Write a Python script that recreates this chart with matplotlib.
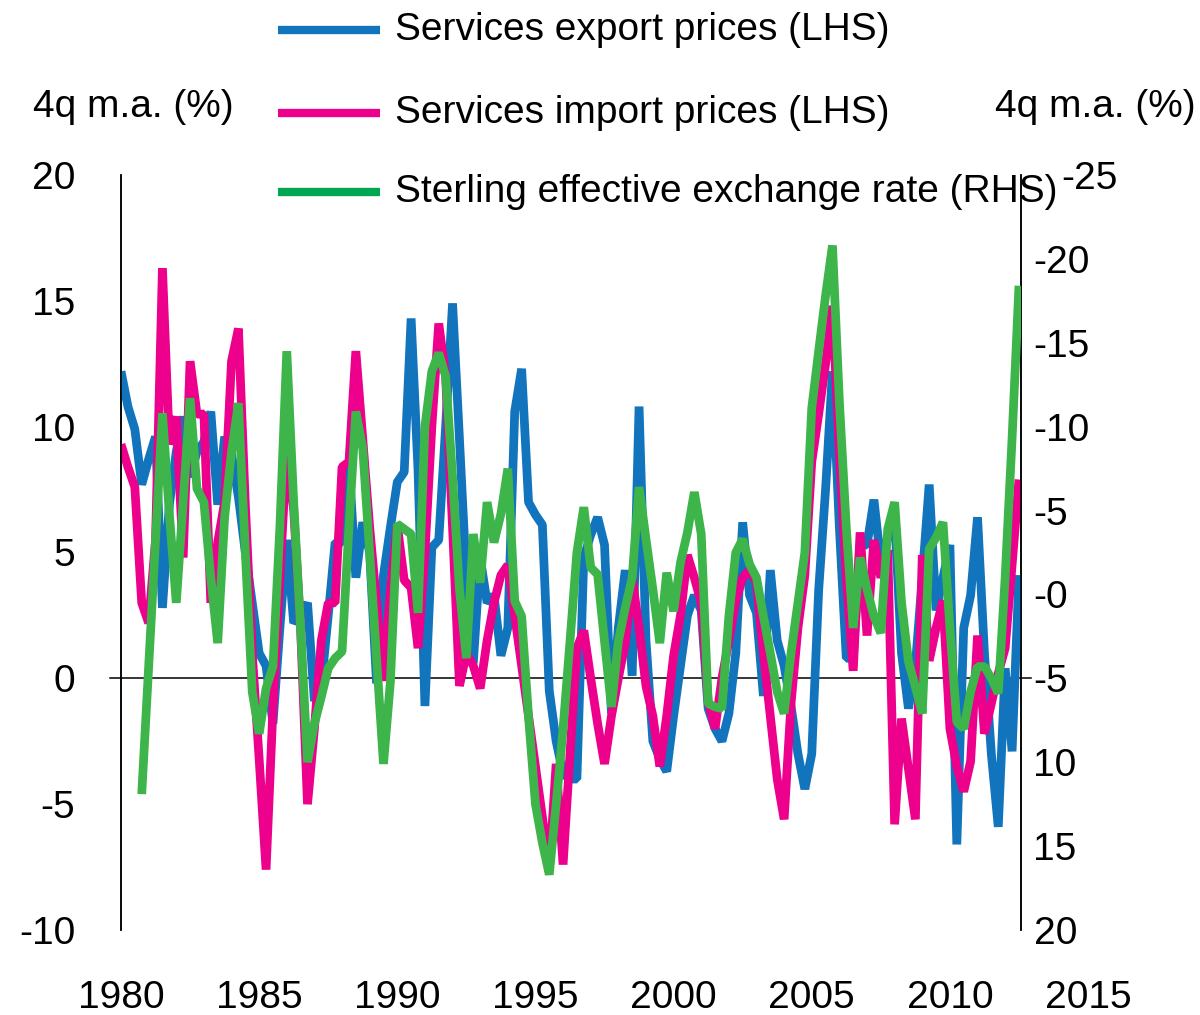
import numpy as np
import matplotlib
matplotlib.use("Agg")
import matplotlib.pyplot as plt
from matplotlib.lines import Line2D
from matplotlib.transforms import ScaledTranslation, blended_transform_factory

plt.rcParams['font.family'] = ['Liberation Sans', 'DejaVu Sans']

# ---------------- data (quarterly, 1980Q1 - 2012Q3) ----------------
start_year = 1980.0
export_prices = [
    12.2, 10.8, 9.9, 7.7, 8.7, 9.6, 2.8, 6.9, 9.0, 10.4,
    8.0, 9.0, 9.4, 10.6, 6.9, 9.6, 8.9, 7.2, 5.0, 3.0,
    1.0, 0.5, -1.8, 2.0, 5.5, 2.2, 2.5, 3.0, -0.9, -0.3,
    2.5, 5.4, 5.4, 8.6, 4.0, 6.2, 5.0, -0.2, 4.1, 6.0,
    7.8, 8.2, 14.3, 8.3, -1.1, 5.2, 5.5, 10.0, 14.9, 9.5,
    4.0, 0.6, 4.8, 3.0, 3.3, 0.9, 2.0, 10.6, 12.3, 7.0,
    6.5, 6.1, -0.5, -2.5, -3.8, -4.0, -4.0, 4.8, 5.7, 6.4,
    5.3, -1.4, 2.0, 4.3, 0.1, 10.8, 1.5, -2.5, -3.2, -3.7,
    -1.5, 0.5, 2.5, 3.3, 2.7, -1.2, -2.0, -2.5, -1.4, 1.0,
    6.2, 3.3, 2.6, -0.7, 4.3, 1.5, 0.5, -1.1, -3.0, -4.4,
    -3.0, 3.5, 7.5, 12.2, 6.0, 0.8, 0.8, 5.3, 5.3, 7.1,
    4.6, 5.6, 6.4, 1.0, -1.2, 0.5, 4.0, 7.7, 2.7, 4.0,
    5.3, -6.6, 2.0, 3.3, 6.4, 1.0, -3.0, -5.9, 0.4, -2.9,
    4.1,
]
import_prices = [
    9.3, 8.4, 7.6, 3.0, 2.2, 5.5, 16.3, 9.3, 10.4, 4.8,
    12.6, 10.5, 10.5, 3.0, 5.4, 7.0, 12.6, 13.9, 6.9, 1.0,
    -3.2, -7.6, -1.2, 4.0, 9.1, 6.7, 2.0, -5.0, -2.0, 1.5,
    3.0, 3.0, 8.4, 8.6, 13.0, 9.5, 6.0, 3.0, -0.1, 3.5,
    6.1, 3.9, 3.6, 1.2, 5.0, 10.0, 14.1, 12.0, 6.0, -0.3,
    1.0, 0.5, -0.4, 1.5, 3.0, 4.1, 4.5, 2.5, 0.5, -1.5,
    -3.5, -5.5, -7.6, -3.4, -7.4, -3.0, 1.2, 1.9, 0.0, -1.8,
    -3.4, -1.5, 0.0, 1.4, 4.0, 2.0, -0.3, -1.5, -3.5, -1.5,
    0.9, 2.5, 4.9, 4.0, 3.0, -0.9, -2.0, 0.0, 1.5, 3.1,
    4.0, 4.3, 3.8, 1.0, -1.5, -4.0, -5.6, -1.0, 2.0, 4.1,
    8.6, 10.5, 12.5, 14.8, 9.0, 4.0, 0.3, 5.8, 1.7, 5.5,
    4.0, 5.1, -5.8, -1.6, -3.6, -5.6, 4.9, 0.7, 2.0, 3.1,
    -2.0, -3.5, -4.5, -3.3, 1.7, -2.2, -1.0, 0.2, 1.2, 4.5,
    7.9,
]
# sterling ERI (RHS, inverted), starts 1980Q4
eri_start_year = 1980.75
sterling_eri = [
    11.9, 4.3, -3.3, -10.8, -4.8, 0.5, -5.5, -11.7, -6.3, -5.5,
    -1.0, 2.9, -4.6, -8.5, -11.4, -2.5, 5.8, 8.3, 5.6, 4.3,
    -4.0, -14.5, -5.5, 2.0, 10.0, 7.7, 6.1, 4.4, 3.8, 3.4,
    -4.0, -10.9, -8.7, -2.5, 3.8, 10.1, 5.2, -4.2, -3.9, -3.6,
    1.1, -10.0, -13.3, -14.4, -13.0, -7.0, -0.3, 3.8, -3.6, -0.7,
    -5.5, -3.1, -4.8, -7.5, 0.4, 1.3, 7.3, 12.5, 14.8, 16.7,
    12.5, 8.0, 2.8, -2.5, -5.2, -1.6, -1.2, 2.8, 6.7, 2.8,
    0.8, -1.0, -6.4, -3.3, -0.3, 2.9, -1.3, 1.0, -1.9, -3.7,
    -6.1, -3.6, 6.5, 6.7, 6.8, 1.3, -2.5, -3.3, -1.8, -1.0,
    1.3, 3.5, 5.8, 7.1, 3.5, 0.5, -2.5, -11.1, -14.5, -17.8,
    -20.8, -11.5, -4.0, 2.0, -2.2, -0.3, 1.3, 2.3, -3.9, -5.5,
    0.5, 4.0, 5.5, 7.1, -2.7, -3.4, -4.3, 2.0, 7.6, 8.0,
    5.8, 4.3, 4.3, 5.0, 5.9, -1.0, -9.3, -18.4,
]

series_labels = ["Services export prices (LHS)",
                 "Services import prices (LHS)",
                 "Sterling effective exchange rate (RHS)"]
year_ticks = [1980, 1985, 1990, 1995, 2000, 2005, 2010, 2015]
left_ticks = [-10, -5, 0, 5, 10, 15, 20]
right_ticks = [-25, -20, -15, -10, -5, 0, 5, 10, 15, 20]
right_tick_labels = ["-25", "-20", "-15", "-10", "-5", "-0", "-5", "10", "15", "20"]
axis_unit = "4q m.a. (%)"

# ---------------- styling ----------------
BLUE = "#1174BD"
PINK = "#EC008C"
GREEN = "#3DB54A"
GREEN_LEG = "#00A651"
FS = 28

W, H = 1200, 1015
fig = plt.figure(figsize=(W / 100, H / 100), dpi=100)
ax = fig.add_axes([121 / W, 1 - 930 / H, 900 / W, 755 / H])
px_per_year = 27.63
ax.set_xlim(1980, 1980 + 900 / px_per_year)
ax.set_ylim(-10, 20)

xq = start_year + np.arange(len(export_prices)) / 4.0
xe = eri_start_year + np.arange(len(sterling_eri)) / 4.0

lw = 6.3
style = dict(lw=lw, solid_joinstyle='bevel', solid_capstyle='butt')
ax.plot(xq, export_prices, color=BLUE, zorder=3, **style)
ax.plot(xq, import_prices, color=PINK, zorder=4, **style)

ax2 = ax.twinx()
ax2.set_ylim(20, -25)
ax2.plot(xe, sterling_eri, color=GREEN, zorder=5, **style)

ax.axhline(0, xmin=-0.012, xmax=1.011, color="black", lw=1.1, clip_on=False, zorder=2)

for a in (ax, ax2):
    a.spines['top'].set_visible(False)
    a.spines['bottom'].set_visible(False)
    a.spines['left'].set_linewidth(1.1)
    a.spines['right'].set_linewidth(1.1)
    a.set_xticks([])
    a.patch.set_visible(False)

ax.set_yticks(left_ticks)
ax.set_yticklabels([str(t) for t in left_ticks])
ax.tick_params(axis='y', length=0, pad=33, labelsize=FS)

ax2.set_yticks(right_ticks)
ax2.set_yticklabels(right_tick_labels)
ax2.tick_params(axis='y', length=0, pad=9, labelsize=FS)
top_tick = ax2.yaxis.get_major_ticks()[0]
top_tick.label2.set_transform(top_tick.label2.get_transform() +
                              ScaledTranslation(0.28, 0, fig.dpi_scale_trans))

# year labels (2015 lies beyond the plotted range)
tr = blended_transform_factory(ax.transData, fig.transFigure)
for yr in year_ticks:
    ax.text(yr, 1 - 998 / H, str(yr), transform=tr, ha='center', va='center',
            fontsize=FS, clip_on=False)

# unit labels
fig.text(133 / W, 1 - 107 / H, axis_unit, ha='center', va='center', fontsize=FS)
fig.text(1095 / W, 1 - 107 / H, axis_unit, ha='center', va='center', fontsize=FS)

# legend
leg_y = [30, 113, 192]
leg_colors = [BLUE, PINK, GREEN_LEG]
for yy, col, lab in zip(leg_y, leg_colors, series_labels):
    fig.add_artist(Line2D([278 / W, 380 / W], [1 - yy / H, 1 - yy / H],
                          transform=fig.transFigure, color=col, lw=6, solid_capstyle='butt'))
    fig.text(395 / W, 1 - yy / H, lab, ha='left', va='center', fontsize=FS)

fig.savefig("out.png", dpi=100)
